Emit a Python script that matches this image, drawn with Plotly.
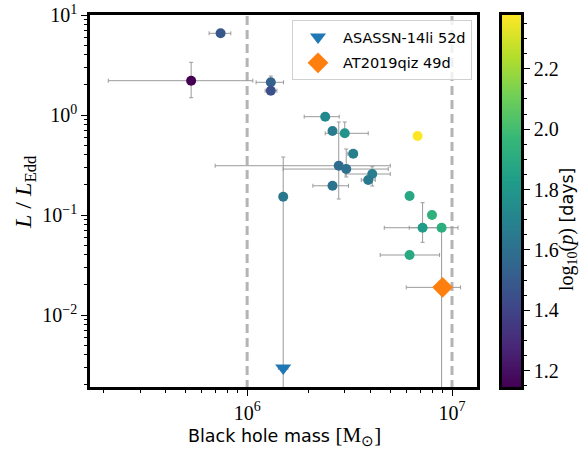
import numpy as np
import plotly.graph_objects as go

# ---- data ----
mass = [7.42e5, 5.33e5, 1.305e6, 1.305e6, 2.405e6, 2.61e6, 2.995e6, 3.295e6, 2.80e6, 3.046e6,
        4.08e6, 3.90e6, 2.61e6, 1.50e6, 6.79e6, 6.207e6, 7.985e6, 7.184e6, 8.896e6, 6.207e6]
mass_lo = [6.52e5, 2.10e5, 1.106e6, 1.224e6, 1.899e6, 2.61e6, 2.405e6, 3.10e6, 6.98e5, 1.50e6,
           3.01e6, 3.606e6, 2.094e6, 1.50e6, 6.79e6, 6.207e6, 7.985e6, 4.67e6, 6.185e6, 4.464e6]
mass_hi = [8.325e5, 1.066e6, 1.504e6, 1.397e6, 2.815e6, 2.61e6, 3.90e6, 3.45e6, 4.996e6, 4.885e6,
           4.996e6, 4.22e6, 3.125e6, 1.50e6, 6.79e6, 6.207e6, 7.985e6, 8.865e6, 1.07e7, 8.697e6]
ledd = [6.56, 2.203, 2.123, 1.75, 0.962, 0.692, 0.656, 0.410, 0.311, 0.288,
        0.257, 0.224, 0.196, 0.152, 0.617, 0.155, 0.100, 0.0746, 0.0746, 0.0398]
ledd_lo = [6.56, 1.489, 2.123, 1.75, 0.962, 0.692, 0.656, 0.410, 0.1445, 0.24,
           0.195, 0.224, 0.196, 1e-4, 0.617, 0.155, 0.100, 0.0533, 1e-4, 0.0398]
ledd_hi = [6.56, 3.365, 2.455, 1.75, 0.962, 0.692, 0.851, 0.410, 0.851, 0.457,
           0.304, 0.224, 0.196, 0.380, 0.617, 0.155, 0.100, 0.1327, 0.0746, 0.0398]
log_period = [1.48, 1.146, 1.53, 1.45, 1.73, 1.66, 1.78, 1.68, 1.57, 1.60,
              1.67, 1.64, 1.62, 1.64, 2.378, 1.88, 1.93, 1.82, 1.92, 1.89]

asassn_name = "ASASSN-14li 52d"
asassn_mass, asassn_mass_lo, asassn_mass_hi = [1.50e6], [1.42e6], [1.58e6]
asassn_ledd = [0.00295]

qiz_name = "AT2019qiz 49d"
qiz_mass, qiz_mass_lo, qiz_mass_hi = [8.995e6], [5.98e6], [1.101e7]
qiz_ledd = [0.0189]

vlines_mass = [1e6, 1e7]

cbar_ticks = [1.2, 1.4, 1.6, 1.8, 2.0, 2.2]
x_ticks = [1e6, 1e7]
x_ticktext = ["10<sup>6</sup>", "10<sup>7</sup>"]
y_ticks = [1e-2, 1e-1, 1, 10]
y_ticktext = ["10<sup>−2</sup>", "10<sup>−1</sup>", "10<sup>0</sup>", "10<sup>1</sup>"]

# ---- layout geometry ----
W, H = 588, 450
L0, R0, T0, B0 = 90, 477, 15, 387
CB_L, CB_R = 502, 521
xdom = [L0 / W, R0 / W]
ydom = [1 - B0 / H, 1 - T0 / H]
cbdom = [CB_L / W, CB_R / W]

cmin, cmax = min(log_period), max(log_period)

SERIF = "Liberation Serif"
SANS = "DejaVu Sans"
ERRC = "#9a9a9a"

fig = go.Figure()

# dashed vertical lines
for xv in vlines_mass:
    fig.add_trace(go.Scatter(x=[xv, xv], y=[1e-4, 100], mode="lines",
                             line=dict(color="#b4b4b4", width=3, dash="9px,5px"),
                             showlegend=False, hoverinfo="skip"))

def errs(v, lo, hi):
    return [h - c for c, h in zip(v, hi)], [c - l for c, l in zip(v, lo)]

ex_p, ex_m = errs(mass, mass_lo, mass_hi)
ey_p, ey_m = errs(ledd, ledd_lo, ledd_hi)

fig.add_trace(go.Scatter(
    x=mass, y=ledd, mode="markers", showlegend=False,
    marker=dict(size=10, color=log_period, colorscale="Viridis", cmin=cmin, cmax=cmax,
                line=dict(width=0), showscale=False),
    error_x=dict(type="data", array=ex_p, arrayminus=ex_m, color=ERRC, thickness=1, width=2),
    error_y=dict(type="data", array=ey_p, arrayminus=ey_m, color=ERRC, thickness=1, width=2),
))

ax_p, ax_m = errs(asassn_mass, asassn_mass_lo, asassn_mass_hi)
fig.add_trace(go.Scatter(
    x=asassn_mass, y=asassn_ledd, mode="markers", name=asassn_name, legendgroup="a",
    marker=dict(symbol="triangle-down", size=14, color="#1f77b4", line=dict(width=0)),
    error_x=dict(type="data", array=ax_p, arrayminus=ax_m, color=ERRC, thickness=1, width=2),
))
qx_p, qx_m = errs(qiz_mass, qiz_mass_lo, qiz_mass_hi)
fig.add_trace(go.Scatter(
    x=qiz_mass, y=qiz_ledd, mode="markers", name=qiz_name, legendgroup="b",
    marker=dict(symbol="diamond", size=16, color="#ff7f0e", line=dict(width=0)),
    error_x=dict(type="data", array=qx_p, arrayminus=qx_m, color=ERRC, thickness=1, width=2),
))

# manual colour bar
levels = np.linspace(cmin, cmax, 300)
fig.add_trace(go.Heatmap(
    x=[0, 1], y=levels, z=[[v, v] for v in levels], colorscale="Viridis",
    zmin=cmin, zmax=cmax, showscale=False, xaxis="x2", yaxis="y2", hoverinfo="skip",
))

minor_x = [k * 10 ** e for e in (5, 6) for k in range(2, 10)]
minor_y = [k * 10 ** e for e in (-3, -2, -1, 0) for k in range(2, 10)]

axis_common = dict(showline=True, linecolor="black", linewidth=2.5, mirror=True,
                   ticks="outside", ticklen=6, tickwidth=1.3, tickcolor="black",
                   showgrid=False, zeroline=False, automargin=False,
                   tickfont=dict(family=SERIF, size=20, color="black"))

fig.update_layout(
    width=W, height=H, margin=dict(l=0, r=0, t=0, b=0, autoexpand=False),
    plot_bgcolor="white", paper_bgcolor="white",
    xaxis=dict(type="log", domain=xdom, range=[5.233, 7.122],
               tickvals=x_ticks, ticktext=x_ticktext,
               minor=dict(tickvals=minor_x, ticks="outside", ticklen=3.5, tickwidth=1, tickcolor="black"),
               anchor="y", **axis_common),
    yaxis=dict(type="log", domain=ydom, range=[-2.72, 1.0],
               tickvals=y_ticks, ticktext=y_ticktext,
               minor=dict(tickvals=minor_y, ticks="outside", ticklen=3.5, tickwidth=1, tickcolor="black"),
               anchor="x", **axis_common),
    xaxis2=dict(domain=cbdom, range=[0, 1], anchor="y2", showticklabels=False, ticks="",
                showline=True, linecolor="black", linewidth=2.5, mirror=True,
                showgrid=False, zeroline=False, automargin=False),
    yaxis2=dict(domain=ydom, range=[cmin, cmax], anchor="x2", side="right",
                showline=True, linecolor="black", linewidth=2.5, mirror=True,
                ticks="outside", ticklen=6, tickwidth=1.3, tickcolor="black",
                tickvals=cbar_ticks, ticktext=[f"{v:.1f}" for v in cbar_ticks],
                minor=dict(dtick=0.05, tick0=1.0, ticks="outside", ticklen=3.5, tickwidth=1, tickcolor="black"),
                showgrid=False, zeroline=False, automargin=False,
                tickfont=dict(family=SERIF, size=20, color="black")),
    legend=dict(x=292 / W, y=1 - 20 / H, xanchor="left", yanchor="top",
                bgcolor="rgba(255,255,255,0.8)", bordercolor="#d0d0d0", borderwidth=1,
                font=dict(family=SANS, size=14.5, color="black"), itemsizing="trace",
                itemwidth=40, tracegroupgap=4),
    annotations=[
        dict(text="<i>L</i> / <i>L</i><sub>Edd</sub>", x=25 / W, y=1 - 192 / H,
             xref="paper", yref="paper", showarrow=False, textangle=-90,
             xanchor="center", yanchor="middle",
             font=dict(family=SERIF, size=24, color="black")),
        dict(text=f"Black hole mass <span style='font-family:{SERIF};font-size:21px'>[M<sub>⊙</sub>]</span>",
             x=284 / W, y=1 - 436 / H, xref="paper", yref="paper", showarrow=False,
             xanchor="center", yanchor="middle",
             font=dict(family=SANS, size=17.5, color="black")),
        dict(text=f"<span style='font-family:{SERIF};font-size:20px'>log<sub>10</sub>(<i>p</i>)</span> [days]",
             x=568 / W, y=1 - 230 / H, xref="paper", yref="paper", showarrow=False, textangle=-90,
             xanchor="center", yanchor="middle",
             font=dict(family=SANS, size=17.5, color="black")),
    ],
)

fig.write_html("out.html")
